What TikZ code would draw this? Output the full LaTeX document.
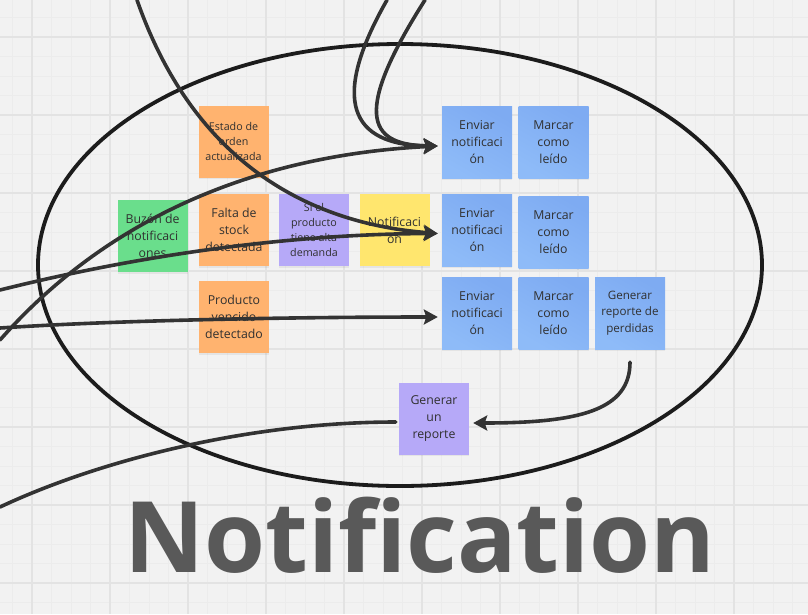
\documentclass[tikz,border=0pt]{standalone}
\usepackage{fontspec}
\setmainfont{Open Sans}
\usetikzlibrary{arrows.meta,shadows}
\definecolor{bg}{HTML}{F2F2F2}
\definecolor{gridminor}{HTML}{ECECEC}
\definecolor{gridmajor}{HTML}{E3E3E3}
\definecolor{orangenote}{HTML}{FFB36F}
\definecolor{greennote}{HTML}{6ADE8C}
\definecolor{purplenote}{HTML}{B6A9F8}
\definecolor{yellownote}{HTML}{FFE66E}
\definecolor{bluenoteA}{HTML}{7EABF2}
\definecolor{bluenoteB}{HTML}{8EBBF8}
\definecolor{txt}{HTML}{303030}
\definecolor{conn}{HTML}{333333}
\definecolor{ring}{HTML}{1C1C1C}
\definecolor{titlegray}{HTML}{595959}
\tikzset{
  minorgrid/.style={draw=gridminor, line width=0.8pt},
  majorgrid/.style={draw=gridmajor, line width=1.2pt},
  sticky/.style={minimum width=70pt, minimum height=72pt, inner sep=0pt, align=center, text=txt,
    font=\fontsize{12.3}{17}\selectfont,
    drop shadow={opacity=0.12, shadow xshift=0pt, shadow yshift=-1.5pt}},
  smalltext/.style={font=\fontsize{10.7}{15.3}\selectfont},
  midtext/.style={font=\fontsize{11.6}{16.3}\selectfont},
  orangest/.style={sticky, fill=orangenote},
  greenst/.style={sticky, fill=greennote},
  purplest/.style={sticky, fill=purplenote},
  yellowst/.style={sticky, fill=yellownote},
  bluest/.style={sticky, top color=bluenoteA, bottom color=bluenoteB, shading angle=-30},
  link/.style={draw=conn, line width=3.6pt, line cap=round},
  arrowlink/.style={link, -{Stealth[length=14pt, width=15pt, inset=2.5pt]}},
  ringline/.style={draw=ring, line width=3.8pt},
}
\begin{document}
\begin{tikzpicture}[x=1pt,y=-1pt]
\useasboundingbox (0,0) rectangle (808,614);
\fill[bg] (0,0) rectangle (808,614);
% grid
\foreach \i in {0,...,44} {
  \draw[minorgrid] ({-46+19.5*\i},0) -- ({-46+19.5*\i},614);
}
\foreach \i in {0,...,33} {
  \draw[minorgrid] (0,{-41+19.5*\i}) -- (808,{-41+19.5*\i});
}
\foreach \i in {0,...,10} {
  \draw[majorgrid] ({32+78*\i},0) -- ({32+78*\i},614);
}
\foreach \i in {0,...,7} {
  \draw[majorgrid] (0,{37+78*\i}) -- (808,{37+78*\i});
}

% ellipse
\draw[ringline] (400,265) ellipse [x radius=362, y radius=221];

% sticky notes
\node[orangest, smalltext] (estado) at (233.5,141.5) {Estado de\\orden\\actualizada};
\node[greenst] (buzon) at (152.5,236) {Buzón de\\notificaci\\ones};
\node[orangest] (falta) at (234,230) {Falta de\\stock\\detectada};
\node[purplest, smalltext] (siel) at (314,230) {Si el\\producto\\tiene alta\\demanda};
\node[yellowst] (notif) at (394.5,230) {Notificaci\\on};
\node[bluest] (env1) at (477,142) {Enviar\\notificaci\\ón};
\node[bluest] (mar1) at (553.5,142) {Marcar\\como\\leído};
\node[bluest] (env2) at (477,230) {Enviar\\notificaci\\ón};
\node[bluest] (mar2) at (553.5,232.5) {Marcar\\como\\leído};
\node[orangest] (prod) at (234,317) {Producto\\vencido\\detectado};
\node[bluest] (env3) at (477,313) {Enviar\\notificaci\\ón};
\node[bluest] (mar3) at (553.5,313) {Marcar\\como\\leído};
\node[bluest, midtext] (genp) at (630,313) {Generar\\reporte de\\perdidas};
\node[purplest] (genu) at (434,418.5) {Generar\\un\\reporte};

% free ends
\coordinate (topA) at (137,0);
\coordinate (leftA) at (0,290);
\coordinate (leftB) at (0,340);
\coordinate (topB) at (387,0);
\coordinate (topC) at (425,0);
\coordinate (leftC) at (0,328);
\coordinate (leftD) at (0,507);

% connectors
\draw[arrowlink] (topA) .. controls (200,180) and (330,225) .. ([xshift=-4pt,yshift=-3.5pt]env2.west);
\draw[arrowlink] (leftA) .. controls (140,255) and (290,234) .. ([xshift=-4pt,yshift=-3.5pt]env2.west);
\draw[arrowlink] (leftB) .. controls (110,215) and (260,155) .. ([xshift=-4pt,yshift=-4pt]env1.west);
\draw[arrowlink] (topB) .. controls (330,100) and (350,145) .. ([xshift=-4pt,yshift=-4pt]env1.west);
\draw[arrowlink] (topC) .. controls (355,110) and (365,145) .. ([xshift=-4pt,yshift=-4pt]env1.west);
\draw[arrowlink] (leftC) .. controls (120,320) and (300,317) .. ([xshift=-4pt,yshift=-4pt]env3.west);
\draw[arrowlink] ([yshift=-13pt]genp.south) .. controls (630,410) and (580,423) .. ([xshift=4pt,yshift=-4.5pt]genu.east);
\draw[link] ([xshift=-3pt,yshift=-3.5pt]genu.west) .. controls (250,422) and (100,460) .. (leftD);

% title
\node[anchor=base, text=titlegray, inner sep=0pt, font=\fontsize{98.6}{105}\selectfont\bfseries] (title) at (420,572) {Notification};
\end{tikzpicture}
\end{document}
